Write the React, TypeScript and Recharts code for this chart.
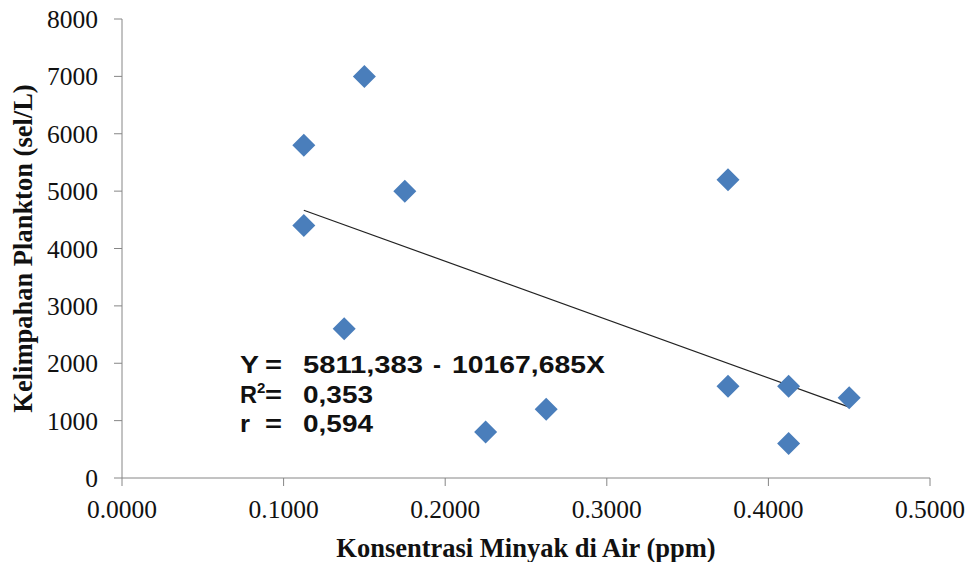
import React from 'react';
import { ScatterChart, Scatter, XAxis, YAxis, ReferenceLine } from 'recharts';

const concentration = [0.1125, 0.1125, 0.15, 0.1375, 0.175, 0.225, 0.2625, 0.375, 0.375, 0.4125, 0.4125, 0.45];
const abundance = [5800, 4400, 7000, 2600, 5000, 800, 1200, 5200, 1600, 1600, 600, 1400];
const xTicks = [0, 0.1, 0.2, 0.3, 0.4, 0.5];
const yTicks = [0, 1000, 2000, 3000, 4000, 5000, 6000, 7000, 8000];
const intercept = 5811.383;
const slope = -10167.685;
const xTitle = 'Konsentrasi Minyak di Air (ppm)';
const yTitle = 'Kelimpahan Plankton (sel/L)';

const points = concentration.map((x, i) => ({ x, y: abundance[i] }));
const xMin = Math.min(...concentration);
const xMax = Math.max(...concentration);
const trendSegment = [
  { x: xMin, y: intercept + slope * xMin },
  { x: xMax, y: intercept + slope * xMax },
];

const Diamond = (props: any) => {
  const { cx, cy } = props;
  const r = 11.5;
  return <path d={`M${cx},${cy - r}L${cx + r},${cy}L${cx},${cy + r}L${cx - r},${cy}Z`} fill="#4A7EBB" />;
};

const tickStyle = { fontSize: 25.5, fontFamily: 'Liberation Serif', fill: '#111' };
const annFont = { fontFamily: 'Liberation Sans', fontWeight: 700, fontSize: 24, fill: '#111' } as any;

export default function App() {
  return (
    <div style={{ position: 'absolute', left: 0, top: 0, width: 971, height: 562, background: '#fff' }}>
      <ScatterChart width={971} height={562} margin={{ top: 19, right: 41, bottom: 0, left: 0 }}>
        <XAxis
          type="number"
          dataKey="x"
          domain={[0, 0.5]}
          ticks={xTicks}
          tickFormatter={(v: number) => v.toFixed(4)}
          height={84}
          tickSize={8}
          tickMargin={14}
          stroke="#868686"
          tick={tickStyle}
          label={{ value: xTitle, position: 'insideBottom', offset: 5, fontSize: 26.5, fontWeight: 700, fontFamily: 'Liberation Serif', fill: '#111' }}
        />
        <YAxis
          type="number"
          dataKey="y"
          domain={[0, 8000]}
          ticks={yTicks}
          width={122}
          tickSize={8}
          tickMargin={16}
          stroke="#868686"
          tick={tickStyle}
          label={{ value: yTitle, angle: -90, position: 'insideLeft', offset: 23, style: { textAnchor: 'middle' }, fontSize: 26.5, fontWeight: 700, fontFamily: 'Liberation Serif', fill: '#111' }}
        />
        <ReferenceLine segment={trendSegment} stroke="#222" strokeWidth={1.2} ifOverflow="visible" />
        <Scatter data={points} shape={Diamond} isAnimationActive={false} />
      </ScatterChart>
      <svg width={971} height={562} style={{ position: 'absolute', left: 0, top: 0, pointerEvents: 'none' }}>
        <g {...annFont}>
          <text x={240} y={373} textLength={19} lengthAdjust="spacingAndGlyphs">Y</text>
          <text x={265} y={373} textLength={17} lengthAdjust="spacingAndGlyphs">=</text>
          <text x={303} y={373} textLength={120} lengthAdjust="spacingAndGlyphs">5811,383</text>
          <text x={433} y={373} textLength={8} lengthAdjust="spacingAndGlyphs">-</text>
          <text x={452} y={373} textLength={153} lengthAdjust="spacingAndGlyphs">10167,685X</text>
          <text x={240} y={403} textLength={17} lengthAdjust="spacingAndGlyphs">R</text>
          <text x={257} y={393} fontSize={15}>2</text>
          <text x={265} y={403} textLength={17} lengthAdjust="spacingAndGlyphs">=</text>
          <text x={303} y={403} textLength={70} lengthAdjust="spacingAndGlyphs">0,353</text>
          <text x={240} y={432} textLength={10} lengthAdjust="spacingAndGlyphs">r</text>
          <text x={265} y={432} textLength={17} lengthAdjust="spacingAndGlyphs">=</text>
          <text x={303} y={432} textLength={70} lengthAdjust="spacingAndGlyphs">0,594</text>
        </g>
      </svg>
    </div>
  );
}
